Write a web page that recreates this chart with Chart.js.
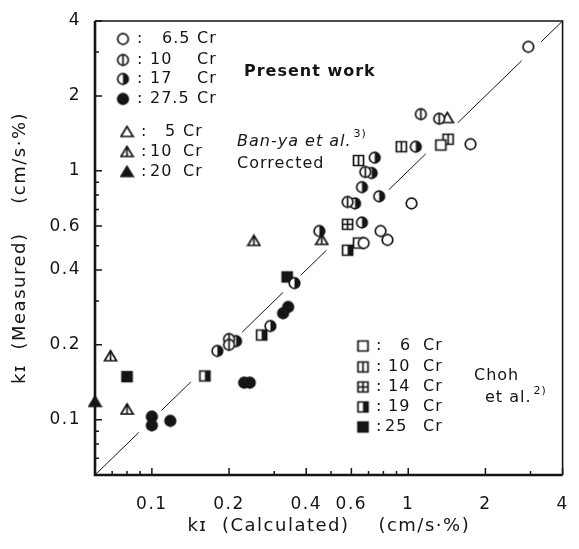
<!DOCTYPE html>
<html>
<head>
<meta charset="utf-8">
<script src="https://cdn.jsdelivr.net/npm/chart.js@4.4.1/dist/chart.umd.min.js"></script>
<style>
  html, body { margin: 0; padding: 0; background: #fff; }
  canvas { display: block; }
</style>
</head>
<body>
<canvas id="kChart" width="579" height="549"></canvas>
<script>
// axis ticks
const tickValues = [0.1, 0.2, 0.4, 0.6, 1, 2, 4];
const tickLabels = ["0.1", "0.2", "0.4", "0.6", "1", "2", "4"];
const minorTicks = [0.07, 0.08, 0.09, 0.3, 0.5, 0.7, 0.8, 0.9, 3];

// Present work (circles), [calculated, measured]
const present65 = [[2.94, 3.15], [1.75, 1.28], [1.03, 0.74], [0.78, 0.573], [0.83, 0.528], [0.67, 0.513]];
const present10 = [[1.12, 1.69], [1.32, 1.62], [0.68, 0.99], [0.58, 0.75], [0.200, 0.211], [0.200, 0.200]];
const present17 = [[1.07, 1.25], [0.74, 1.13], [0.72, 0.98], [0.66, 0.86], [0.77, 0.79], [0.62, 0.74],
                   [0.66, 0.62], [0.45, 0.573], [0.36, 0.354], [0.29, 0.238], [0.213, 0.207], [0.180, 0.189]];
const present275 = [[0.34, 0.284], [0.325, 0.268], [0.241, 0.141], [0.229, 0.141], [0.100, 0.103], [0.100, 0.095], [0.118, 0.099]];

// Ban-ya et al. corrected (triangles)
const banya5 = [[1.42, 1.63]];
const banya10 = [[0.250, 0.523], [0.46, 0.528], [0.069, 0.180], [0.080, 0.110]];
const banya20 = [[0.06, 0.118]];

// Choh et al. (squares)
const choh6 = [[1.34, 1.27], [0.64, 0.513]];
const choh10 = [[1.43, 1.34], [0.94, 1.25], [0.64, 1.10]];
const choh14 = [[0.58, 0.61]];
const choh19 = [[0.58, 0.48], [0.268, 0.219], [0.161, 0.150]];
const choh25 = [[0.337, 0.375], [0.080, 0.149]];

// y = x line, drawn in pieces
const diagonalPieces = [[0.06, 0.089], [0.109, 0.142], [0.225, 0.325], [0.381, 0.479], [0.84, 1.17], [1.56, 2.77], [3.3, 4]];

const INK = "#151515";
const FONT = "'DejaVu Sans', sans-serif";

function makeMarker(shape, fill) {
  const c = document.createElement("canvas");
  c.width = 15; c.height = 15;
  const g = c.getContext("2d");
  const m = 7.5;
  g.lineWidth = 1.7;
  g.strokeStyle = INK;
  g.fillStyle = "#fff";
  g.beginPath();
  let top = m - 5.3, bot = m + 5.3;
  if (shape === "circle") {
    g.arc(m, m, 5.3, 0, Math.PI * 2);
  } else if (shape === "square") {
    g.rect(m - 5, m - 5, 10, 10);
    top = m - 5; bot = m + 5;
  } else {
    g.moveTo(m, m - 5.5);
    g.lineTo(m + 6, m + 4.5);
    g.lineTo(m - 6, m + 4.5);
    g.closePath();
    top = m - 5.5; bot = m + 4.5;
  }
  g.fill();
  if (fill === "full") {
    g.fillStyle = INK;
    g.fill();
  }
  if (fill === "half") {
    g.save();
    g.clip();
    g.fillStyle = INK;
    g.fillRect(m, 0, 15, 15);
    g.restore();
  }
  g.stroke();
  if (fill === "vline" || fill === "cross") {
    g.beginPath();
    g.moveTo(m, top);
    g.lineTo(m, bot);
    if (fill === "cross") {
      g.moveTo(m - 5, m);
      g.lineTo(m + 5, m);
    }
    g.stroke();
  }
  return c;
}

const markers = {
  c65: makeMarker("circle", "open"),
  c10: makeMarker("circle", "vline"),
  c17: makeMarker("circle", "half"),
  c275: makeMarker("circle", "full"),
  t5: makeMarker("tri", "open"),
  t10: makeMarker("tri", "vline"),
  t20: makeMarker("tri", "full"),
  s6: makeMarker("square", "open"),
  s10: makeMarker("square", "vline"),
  s14: makeMarker("square", "cross"),
  s19: makeMarker("square", "half"),
  s25: makeMarker("square", "full")
};

function toPoints(arr) {
  return arr.map(p => ({ x: p[0], y: p[1] }));
}

function pointSet(label, arr, marker) {
  return {
    label: label,
    data: toPoints(arr),
    pointStyle: marker,
    pointRadius: 6,
    clip: false
  };
}

const diagonalData = [];
diagonalPieces.forEach((seg, i) => {
  if (i > 0) diagonalData.push({ x: (diagonalPieces[i - 1][1] + seg[0]) / 2, y: null });
  diagonalData.push({ x: seg[0], y: seg[0] });
  diagonalData.push({ x: seg[1], y: seg[1] });
});

// wider letter spacing, like the typeset original
const spacingPlugin = {
  id: "spacing",
  beforeDraw(chart) {
    chart.ctx.letterSpacing = "1.5px";
  }
};

// frame + inward tick marks, legends and labels inside the plot
const framePlugin = {
  id: "frame",
  afterDraw(chart) {
    const { ctx, chartArea, scales } = chart;
    const { left, right, top, bottom } = chartArea;
    ctx.save();
    ctx.strokeStyle = INK;
    ctx.lineWidth = 1.6;
    ctx.beginPath();
    ctx.moveTo(left, top);
    ctx.lineTo(right, top);
    ctx.lineTo(right, bottom);
    ctx.stroke();
    ctx.lineWidth = 2.6;
    ctx.beginPath();
    ctx.moveTo(left, top);
    ctx.lineTo(left, bottom);
    ctx.lineTo(right, bottom);
    ctx.stroke();

    ctx.lineWidth = 1.5;
    ctx.beginPath();
    const all = tickValues.map(v => [v, 7]).concat(minorTicks.map(v => [v, 4]));
    all.forEach(([v, len]) => {
      const x = scales.x.getPixelForValue(v);
      ctx.moveTo(x, bottom);
      ctx.lineTo(x, bottom - len);
      const y = scales.y.getPixelForValue(v);
      ctx.moveTo(left, y);
      ctx.lineTo(left + len, y);
    });
    ctx.stroke();

    ctx.fillStyle = INK;
    ctx.textBaseline = "middle";
    ctx.textAlign = "left";
    ctx.letterSpacing = "1px";
    ctx.font = "16px " + FONT;

    const rows = [
      [markers.c65, 123, 39, "6.5", 162, "Cr", 197],
      [markers.c10, 123, 60, "10", 150, "Cr", 197],
      [markers.c17, 123, 79, "17", 150, "Cr", 197],
      [markers.c275, 123, 99, "27.5", 150, "Cr", 197],
      [markers.t5, 127, 132, "5", 165, "Cr", 183],
      [markers.t10, 127, 152, "10", 150, "Cr", 183],
      [markers.t20, 127, 172, "20", 150, "Cr", 183],
      [markers.s6, 363, 346, "6", 400, "Cr", 423],
      [markers.s10, 363, 367, "10", 388, "Cr", 423],
      [markers.s14, 363, 387, "14", 388, "Cr", 423],
      [markers.s19, 363, 407, "19", 388, "Cr", 423],
      [markers.s25, 363, 427, "25", 385, "Cr", 423]
    ];
    rows.forEach(r => {
      ctx.drawImage(r[0], r[1] - 7.5, r[2] - 7.5);
      ctx.fillText(":", r[1] + (r[1] > 300 ? 13 : 14), r[2]);
      ctx.fillText(r[3], r[4], r[2]);
      ctx.fillText(r[5], r[6], r[2]);
    });

    ctx.font = "600 16px " + FONT;
    ctx.fillText("Present work", 244, 72);
    ctx.font = "italic 16px " + FONT;
    ctx.fillText("Ban-ya et al.", 237, 142);
    let w = ctx.measureText("Ban-ya et al.").width;
    ctx.font = "11px " + FONT;
    ctx.fillText("3)", 237 + w + 2, 134);
    ctx.font = "16px " + FONT;
    ctx.fillText("Corrected", 237, 164);
    ctx.fillText("Choh", 474, 376);
    ctx.fillText("et al.", 485, 398);
    w = ctx.measureText("et al.").width;
    ctx.font = "11px " + FONT;
    ctx.fillText("2)", 485 + w + 2, 391);
    ctx.restore();
  }
};

const axisFont = { family: FONT, size: 17 };
const titleFont = { family: FONT, size: 18 };

new Chart(document.getElementById("kChart"), {
  type: "scatter",
  data: {
    datasets: [
      pointSet("6.5 Cr", present65, markers.c65),
      pointSet("10 Cr", present10, markers.c10),
      pointSet("17 Cr", present17, markers.c17),
      pointSet("27.5 Cr", present275, markers.c275),
      pointSet("5 Cr", banya5, markers.t5),
      pointSet("10 Cr", banya10, markers.t10),
      pointSet("20 Cr", banya20, markers.t20),
      pointSet("6 Cr", choh6, markers.s6),
      pointSet("10 Cr", choh10, markers.s10),
      pointSet("14 Cr", choh14, markers.s14),
      pointSet("19 Cr", choh19, markers.s19),
      pointSet("25 Cr", choh25, markers.s25),
      {
        label: "y = x",
        data: diagonalData,
        showLine: true,
        spanGaps: false,
        borderColor: INK,
        borderWidth: 1,
        pointRadius: 0
      }
    ]
  },
  options: {
    responsive: false,
    animation: false,
    layout: { padding: { top: 21, right: 7, left: 0, bottom: 0 } },
    plugins: {
      legend: { display: false },
      tooltip: { enabled: false }
    },
    scales: {
      x: {
        type: "logarithmic",
        min: 0.06,
        max: 4,
        grid: { display: false },
        border: { display: false },
        afterBuildTicks: s => { s.ticks = tickValues.map(v => ({ value: v })); },
        afterFit: s => { s.height = 74; },
        ticks: {
          autoSkip: false,
          maxRotation: 0,
          padding: 11,
          color: INK,
          font: axisFont,
          callback: v => tickLabels[tickValues.indexOf(v)]
        },
        title: {
          display: true,
          text: "k\u026a  (Calculated)    (cm/s\u00b7%)",
          color: INK,
          font: titleFont,
          padding: { top: 0, bottom: 12 }
        }
      },
      y: {
        type: "logarithmic",
        min: 0.06,
        max: 4,
        grid: { display: false },
        border: { display: false },
        afterBuildTicks: s => { s.ticks = tickValues.map(v => ({ value: v })); },
        afterFit: s => { s.width = 95; },
        ticks: {
          autoSkip: false,
          padding: 6,
          color: INK,
          font: axisFont,
          callback: v => tickLabels[tickValues.indexOf(v)]
        },
        title: {
          display: true,
          text: "k\u026a  (Measured)    (cm/s\u00b7%)",
          color: INK,
          font: titleFont,
          padding: { top: 10, bottom: 0 }
        }
      }
    }
  },
  plugins: [spacingPlugin, framePlugin]
});
</script>
</body>
</html>
